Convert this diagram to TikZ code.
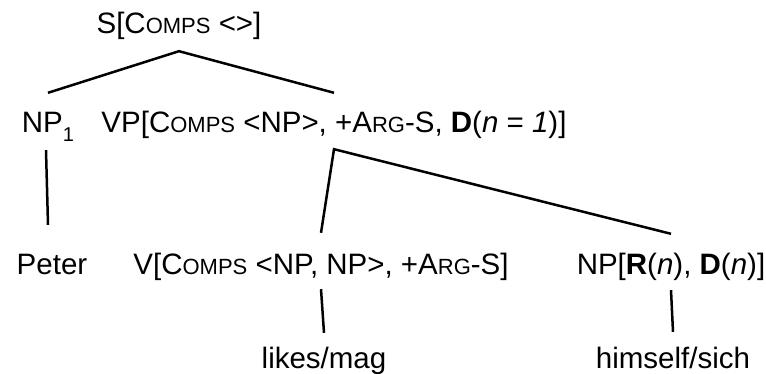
\documentclass[tikz,border=0pt]{standalone}
\usepackage{fontspec}
\setmainfont{Liberation Sans}
\newcommand\smc[1]{{\fontsize{22}{24}\selectfont #1}}
\begin{document}
\begin{tikzpicture}[x=1pt, y=-1pt,
		label/.style={font=\fontsize{29.5}{32}\selectfont, inner sep=0pt, anchor=base,
			text height=19pt, text depth=6pt},
		branch/.style={line width=2.5pt}
		]
	\useasboundingbox (0,0) rectangle (766,374);
	% nodes of the tree
	\node [label] (s) at (179,34) {S[C\smc{OMPS} <>]};
	\node [label] (np1) at (48,133) {NP\raisebox{-9pt}{\fontsize{20}{20}\selectfont 1}};
	\node [label] (vp) at (334,133) {VP[C\smc{OMPS} <NP>, +A\smc{RG}-S, \textbf{D}(\textit{n} = \textit{1})]};
	\node [label] (peter) at (52,275) {Peter};
	\node [label] (v) at (321,275) {V[C\smc{OMPS} <NP, NP>, +A\smc{RG}-S]};
	\node [label] (np) at (671,275) {NP[\textbf{R}(\textit{n}), \textbf{D}(\textit{n})]};
	\node [label] (likes) at (324,368) {likes/mag};
	\node [label] (himself) at (673,368) {himself/sich};
	% branches
	\draw [branch] ([yshift=21pt]np1.north) -- ([yshift=-11pt]s.south) -- ([yshift=21pt]vp.north);
	\draw [branch] ([yshift=23pt]v.north) -- ([yshift=-10pt]vp.south) -- ([yshift=22pt]np.north);
	\draw [branch] ([xshift=-2pt,yshift=-11pt]np1.south) -- ([yshift=31pt]np1.south |- peter.north);
	\draw [branch] ([yshift=-8pt]v.south) -- ([yshift=16pt]likes.north);
	\draw [branch] ([yshift=-9pt]np.south) -- ([yshift=17pt]himself.north);
\end{tikzpicture}
\end{document}
